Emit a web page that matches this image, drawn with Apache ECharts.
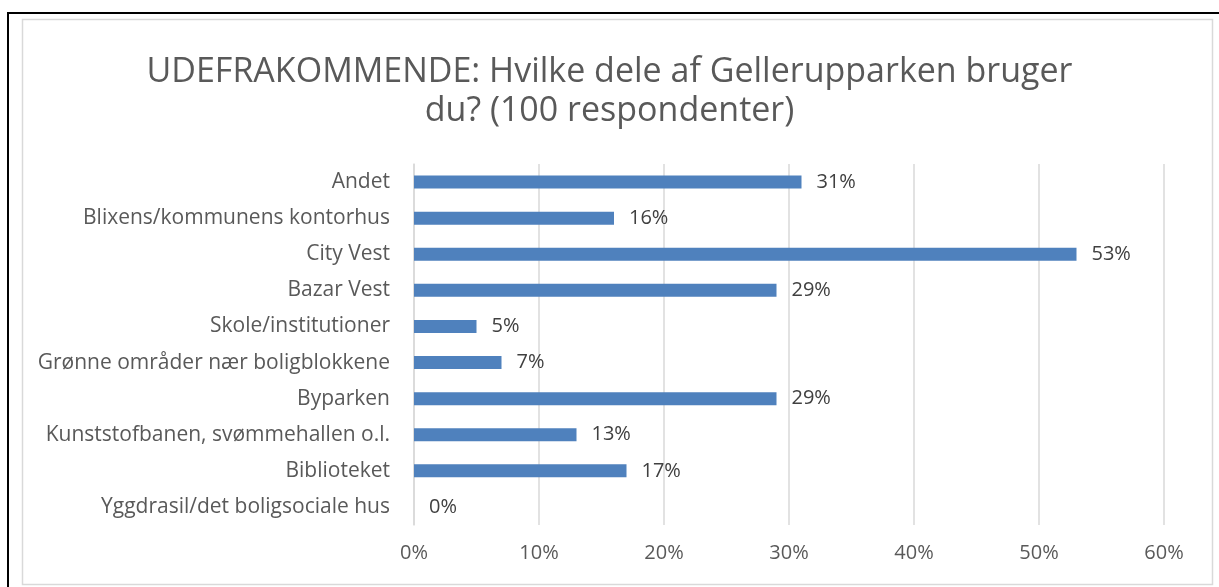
<!DOCTYPE html>
<html>
<head>
<meta charset="utf-8">
<script src="https://cdn.jsdelivr.net/npm/echarts@6/dist/echarts.min.js"></script>
<style>
  html, body { margin: 0; padding: 0; background: #fff; }
  #chart { width: 1219px; height: 587px; }
</style>
</head>
<body>
<div id="chart"></div>
<script>
'use strict';
/* Gellerupparken survey chart */

var categories = [
  'Andet',
  'Blixens/kommunens kontorhus',
  'City Vest',
  'Bazar Vest',
  'Skole/institutioner',
  'Grønne områder nær boligblokkene',
  'Byparken',
  'Kunststofbanen, svømmehallen o.l.',
  'Biblioteket',
  'Yggdrasil/det boligsociale hus'
];
var values = [31, 16, 53, 29, 5, 7, 29, 13, 17, 0];
var tickLabels = ['0%', '10%', '20%', '30%', '40%', '50%', '60%'];
var titleLines = [
  'UDEFRAKOMMENDE: Hvilke dele af Gellerupparken bruger',
  'du? (100 respondenter)'
];

var font = 'Open Sans';
var titleStyle = {
  color: '#595959',
  fontFamily: font,
  fontWeight: 'normal',
  fontSize: 34
};

var chart = echarts.init(document.getElementById('chart'));
var option = {
  animation: false,
  title: [
    { text: titleLines[0], left: 'center', top: 50, textStyle: titleStyle },
    { text: titleLines[1], left: 'center', top: 89, textStyle: titleStyle }
  ],
  graphic: [
    { type: 'rect', shape: { x: 22.5, y: 19.5, width: 1190, height: 565 },
      style: { fill: 'none', stroke: '#d9d9d9', lineWidth: 1.5 } },
    { type: 'line', shape: { x1: 8, y1: 13, x2: 1219, y2: 13 },
      style: { stroke: '#000', lineWidth: 2 } },
    { type: 'line', shape: { x1: 8, y1: 12, x2: 8, y2: 587 },
      style: { stroke: '#000', lineWidth: 2 } }
  ],
  grid: { left: 414, right: 55, top: 164, bottom: 62 },
  xAxis: {
    type: 'value',
    min: 0,
    max: 60,
    interval: 10,
    axisLine: { show: false },
    axisTick: { show: false },
    splitLine: { lineStyle: { color: '#d9d9d9', width: 1.5 } },
    axisLabel: {
      color: '#595959',
      fontFamily: font,
      fontSize: 20,
      margin: 18,
      formatter: function (v) { return tickLabels[v / 10]; }
    }
  },
  yAxis: {
    type: 'category',
    data: categories,
    inverse: true,
    axisLine: { show: true, lineStyle: { color: '#d9d9d9', width: 1.5 } },
    axisTick: { show: false },
    axisLabel: {
      color: '#595959',
      fontFamily: font,
      fontSize: 21,
      margin: 24
    }
  },
  series: [{
    type: 'bar',
    data: values,
    barWidth: 13,
    itemStyle: { color: '#4f81bd' },
    label: {
      show: true,
      position: 'right',
      distance: 15,
      color: '#404040',
      fontFamily: font,
      fontSize: 20,
      formatter: function (p) { return p.value + '%'; }
    }
  }]
};
chart.setOption(option);
</script>
</body>
</html>
